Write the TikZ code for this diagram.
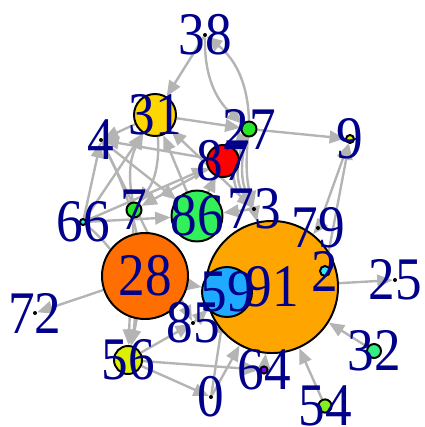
\documentclass[tikz,border=0pt]{standalone}
\usepackage{fontspec}
\setmainfont{Liberation Serif}
\usepackage{tikz}
\usetikzlibrary{arrows.meta}
\definecolor{labelBlue}{RGB}{0,0,139}
\definecolor{edgeGray}{RGB}{180,180,180}
\definecolor{vGold}{RGB}{255,215,0}
\definecolor{vGreen}{RGB}{40,230,40}
\definecolor{vLight}{RGB}{50,240,90}
\definecolor{vRed}{RGB}{255,0,0}
\definecolor{vOrange}{RGB}{255,110,0}
\definecolor{vAmber}{RGB}{255,165,0}
\definecolor{vSky}{RGB}{30,170,255}
\definecolor{vCyan}{RGB}{50,230,240}
\definecolor{vLime}{RGB}{220,240,0}
\definecolor{vSpring}{RGB}{50,240,130}
\definecolor{vLawn}{RGB}{130,240,30}
\definecolor{vPurple}{RGB}{130,0,255}
\pgfdeclarelayer{background}
\pgfdeclarelayer{foreground}
\pgfsetlayers{background,main,foreground}
\tikzstyle{vertex}=[circle, draw=black, line width=1.4pt, inner sep=0pt]
\tikzstyle{dot}=[circle, fill=black, inner sep=0pt, minimum size=0.1cm]
\tikzstyle{vlabel}=[text=labelBlue, font=\fontsize{43}{43}\selectfont, xscale=0.88, inner sep=0pt]
\tikzstyle{edge}=[-{Triangle[length=11pt,width=9pt]}, line width=1.7pt, color=edgeGray]

\begin{document}
\begin{tikzpicture}[x=0.025cm, y=-0.025cm]
    \useasboundingbox (0,0) rectangle (424,427);

    % Vértices
    \node[dot] (v38) at (205, 35) {};
    \node[vertex, fill=vGold, minimum size=1.05cm] (v31) at (155, 115) {};
    \node[dot] (v4) at (101, 140) {};
    \node[vertex, fill=vGreen, minimum size=0.375cm] (v27) at (249, 129) {};
    \node[vertex, fill=vLime, minimum size=0.2cm] (v9) at (350, 139) {};
    \node[vertex, fill=vRed, minimum size=0.8cm] (v87) at (223, 161) {};
    \node[vertex, fill=vGreen, minimum size=0.375cm] (v7) at (134, 210) {};
    \node[vertex, fill=vCyan, minimum size=0.15cm] (v66) at (83, 222) {};
    \node[vertex, fill=vLight, minimum size=1.275cm] (v86) at (197, 216) {};
    \node[dot] (v73) at (254, 209) {};
    \node[dot] (v79) at (318, 228) {};
    \node[vertex, fill=vOrange, minimum size=2.15cm] (v28) at (145, 276) {};
    \node[vertex, fill=vAmber, minimum size=3.3cm] (v91) at (272, 287) {};
    \node[vertex, fill=vSky, minimum size=1.25cm] (v59) at (227, 292) {};
    \node[vertex, fill=vCyan, minimum size=0.25cm] (v2) at (325, 271) {};
    \node[dot] (v25) at (395, 280) {};
    \node[dot] (v72) at (35, 313) {};
    \node[dot] (v85) at (193, 323) {};
    \node[vertex, fill=vLime, minimum size=0.7cm] (v56) at (128, 360) {};
    \node[dot] (v0) at (211, 397) {};
    \node[vertex, fill=vPurple, minimum size=0.18cm] (v64) at (264, 370) {};
    \node[vertex, fill=vSpring, minimum size=0.35cm] (v32) at (374, 351) {};
    \node[vertex, fill=vLawn, minimum size=0.33cm] (v54) at (325, 406) {};

    % Arestas
    \begin{pgfonlayer}{background}
      \foreach \a/\b in {38/31, 31/27, 27/9, 79/9, 2/9, 31/4, 87/4, 66/4,
                         66/31, 86/31, 73/31, 87/7, 66/86, 4/85, 4/86,
                         66/87, 86/87, 27/87, 73/86, 28/56, 28/72, 7/56,
                         56/0, 56/64, 56/85, 0/59, 0/91, 64/91, 54/91,
                         32/91, 91/25, 28/59, 85/59, 73/91, 79/91} {
        \draw[edge] (v\a) -- (v\b);
      }
      \draw[edge] (v38) to[bend right=25] (v27);
      \draw[edge] (v27) to[bend right=25] (v38);
      \foreach \k in {10, 20, 30, 40} {
        \draw[edge] (v27) to[bend right=\k] (v73);
      }
      \draw[edge] (v31) to[bend left=20] (v7);
      \draw[edge] (v7) to[bend left=20] (v31);
      \draw[edge] (v66) to[bend left=30] (v56);
      \draw[edge] (v4) to[bend left=20] (v56);
    \end{pgfonlayer}

    % Rótulos
    \begin{pgfonlayer}{foreground}
      \foreach \v in {38, 31, 4, 27, 9, 87, 7, 66, 86, 73, 79, 28, 91,
                      59, 2, 25, 72, 85, 56, 0, 64, 32, 54} {
        \node[vlabel] at (v\v) {\v};
      }
    \end{pgfonlayer}
  \end{tikzpicture}
\end{document}
